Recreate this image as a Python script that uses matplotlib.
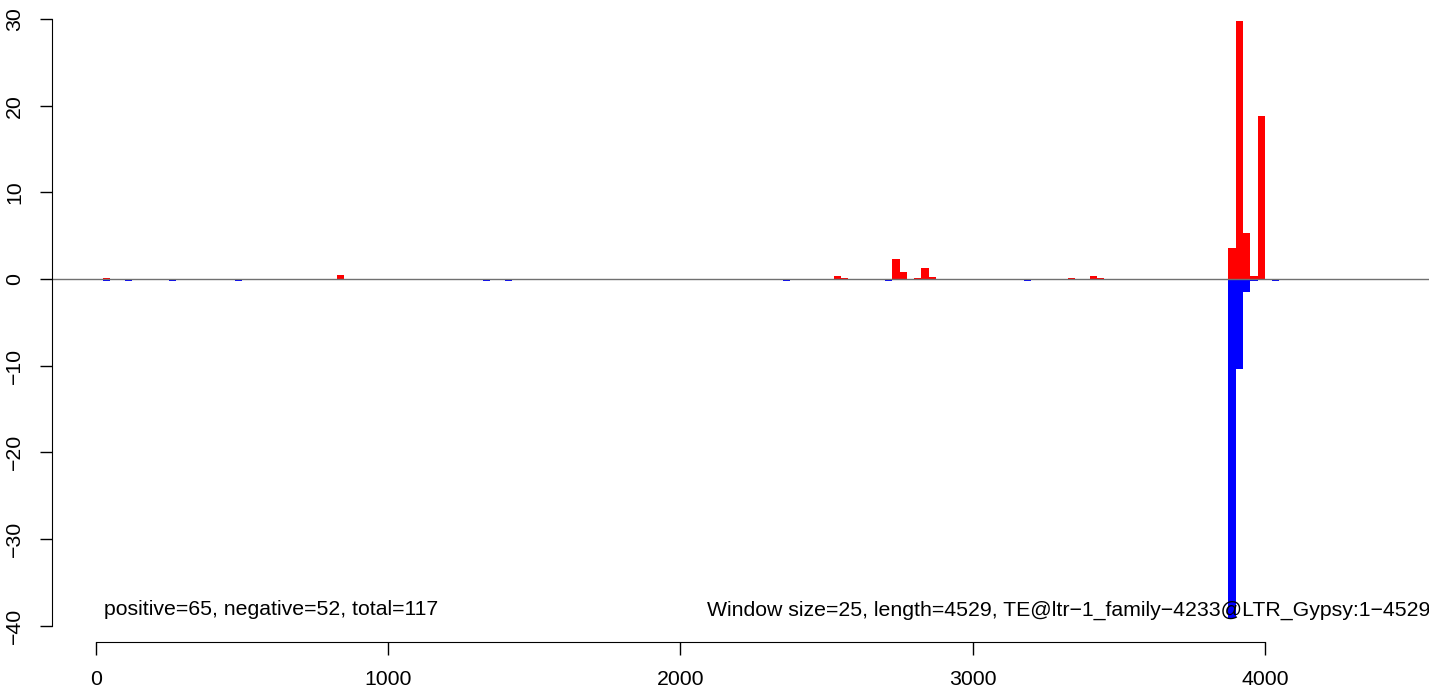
import matplotlib.pyplot as plt

plt.rcParams['font.family'] = ['Liberation Sans', 'DejaVu Sans']

# window size and sequence length
window = 25
seq_len = 4529

# left edge of each window with positive signal, and its value
pos_starts = [25, 575, 825, 1675, 2325, 2525, 2550, 2725, 2750, 2800, 2825, 2850,
              3325, 3350, 3400, 3425, 3875, 3900, 3925, 3950, 3975]
pos_values = [0.15, 0.05, 0.45, 0.05, 0.05, 0.35, 0.08, 2.3, 0.8, 0.08, 1.27, 0.23,
              0.1, 0.05, 0.35, 0.1, 3.6, 29.8, 5.3, 0.38, 18.8]

# left edge of each window with negative signal, and its value
neg_starts = [25, 100, 250, 475, 1325, 1400, 2350, 2700, 3175,
              3875, 3900, 3925, 3950, 3975, 4025]
neg_values = [-0.18, -0.18, -0.18, -0.18, -0.18, -0.18, -0.18, -0.18, -0.18,
              -39.1, -10.4, -1.55, -0.25, -0.12, -0.25]

n_pos, n_neg = 65, 52
label = "TE@ltr\u22121_family\u22124233@LTR_Gypsy:1\u22124529"

fig = plt.figure(figsize=(14.29, 6.88), dpi=100)
ax = fig.add_axes([0.0364, 0.0669, 0.9876, 0.9404])

ax.bar(pos_starts, pos_values, width=window, align='edge', color='red', linewidth=0)
ax.bar(neg_starts, neg_values, width=window, align='edge', color='blue', linewidth=0)
ax.axhline(0, color='#707070', linewidth=1)

ax.set_xlim(-150, 4679)
ax.set_ylim(-41.9, 32.8)

# R style axes: only left and bottom, bounded by first/last tick
for side in ['top', 'right']:
    ax.spines[side].set_visible(False)
ax.spines['left'].set_bounds(-40, 30)
ax.spines['bottom'].set_bounds(0, 4000)
ax.set_xticks([0, 1000, 2000, 3000, 4000])
ax.set_yticks([-40, -30, -20, -10, 0, 10, 20, 30])
ax.tick_params(length=9, width=1, pad=11, labelsize=15.3)
ax.tick_params(axis='y', labelrotation=90)
for t in ax.get_yticklabels():
    t.set_verticalalignment('center')

ax.text(27, -38.2, f"positive={n_pos}, negative={n_neg}, total={n_pos + n_neg}",
        fontsize=15.3, va='center', ha='left')
ax.text(2091, -38.2, f"Window size={window}, length={seq_len}, {label}",
        fontsize=15.3, va='center', ha='left')

fig.savefig('out.png', dpi=100)
